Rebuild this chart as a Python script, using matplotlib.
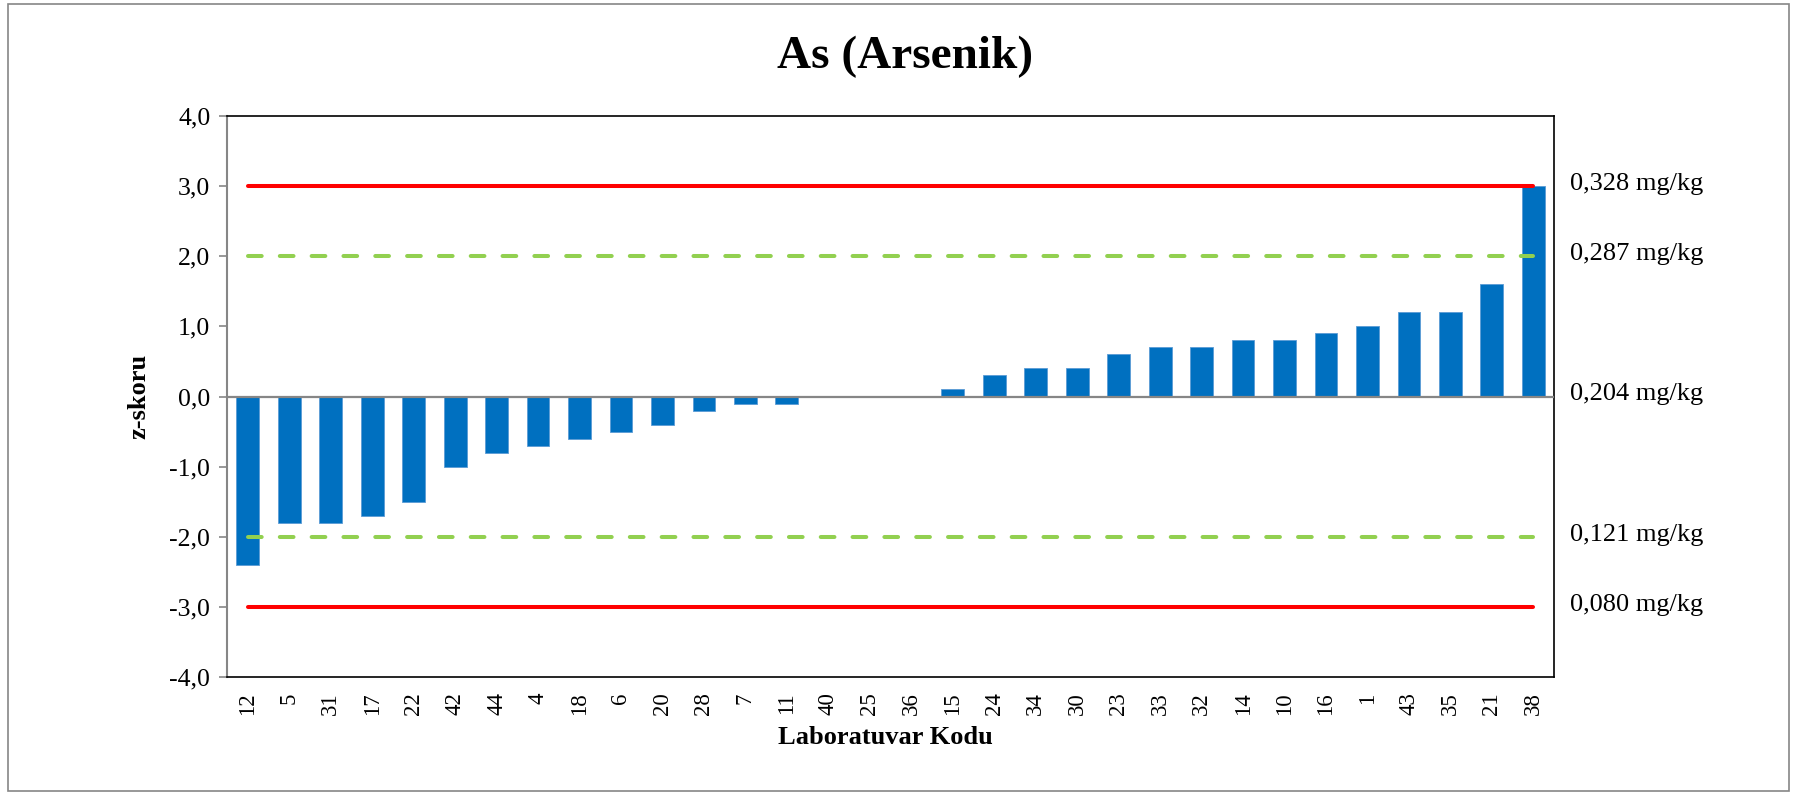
import matplotlib.pyplot as plt
from matplotlib.patches import Rectangle

lab_codes = ['12', '5', '31', '17', '22', '42', '44', '4', '18', '6', '20', '28', '7', '11',
             '40', '25', '36', '15', '24', '34', '30', '23', '33', '32', '14', '10', '16', '1',
             '43', '35', '21', '38']
z_scores = [-2.4, -1.8, -1.8, -1.7, -1.5, -1.0, -0.8, -0.7, -0.6, -0.5, -0.4, -0.2, -0.1, -0.1,
            0.0, 0.0, 0.0, 0.1, 0.3, 0.4, 0.4, 0.6, 0.7, 0.7, 0.8, 0.8, 0.9, 1.0,
            1.2, 1.2, 1.6, 3.0]
limit_z = [3, 2, 0, -2, -3]
limit_conc = [0.328, 0.287, 0.204, 0.121, 0.080]

plt.rcParams['font.family'] = ['Liberation Serif', 'DejaVu Serif']

fig = plt.figure(figsize=(17.96, 7.95), dpi=100)
ax = fig.add_axes([0.1264, 0.1484, 0.7389, 0.7057])

x = list(range(len(lab_codes)))
ax.bar(x, z_scores, width=0.55, color='#0070C0', edgecolor='#5B9BD5', linewidth=0.6, zorder=3)

first, last = x[0], x[-1]
ax.plot([first, last], [3, 3], color='#FF0000', lw=2.9, solid_capstyle='round', zorder=4)
ax.plot([first, last], [-3, -3], color='#FF0000', lw=2.9, solid_capstyle='round', zorder=4)
for zz in (2, -2):
    ax.plot([first, last], [zz, zz], color='#92D050', lw=2.9, dashes=(3.4, 4.5),
            dash_capstyle='round', zorder=4)

ax.axhline(0, color='#868686', lw=1.6, zorder=5)

ax.set_xlim(-0.5, len(lab_codes) - 0.5)
ax.set_ylim(-4, 4)
ax.set_yticks([-4, -3, -2, -1, 0, 1, 2, 3, 4])
ax.set_yticklabels([f'{v:.1f}'.replace('.', ',') for v in ax.get_yticks()], fontsize=18.5)
ax.set_xticks(x)
ax.set_xticklabels(lab_codes, rotation=90, fontsize=16.5)
ax.tick_params(axis='x', length=0, pad=11)
ax.tick_params(axis='y', length=6, width=1.2, color='#868686', pad=6)

for side in ('top', 'right', 'bottom'):
    ax.spines[side].set_color('black')
    ax.spines[side].set_linewidth(1.2)
ax.spines['left'].set_color('#868686')
ax.spines['left'].set_linewidth(1.5)

for zz, conc in zip(limit_z, limit_conc):
    ax.text(1.012, zz + 0.03, f'{conc:.3f}'.replace('.', ',') + ' mg/kg',
            transform=ax.get_yaxis_transform(), fontsize=19, va='center', ha='left')

ax.set_ylabel('z-skoru', fontsize=19, fontweight='bold', labelpad=14)
fig.text(0.493, 0.072, 'Laboratuvar Kodu', fontsize=19, fontweight='bold', ha='center', va='center')
fig.text(0.504, 0.928, 'As (Arsenik)', fontsize=34, fontweight='bold', ha='center', va='center')

fig.patches.append(Rectangle((8 / 1796, 4 / 795), 1781 / 1796, 787 / 795, transform=fig.transFigure,
                             fill=False, edgecolor='#868686', lw=1.2))

fig.savefig('out.png', dpi=100)
